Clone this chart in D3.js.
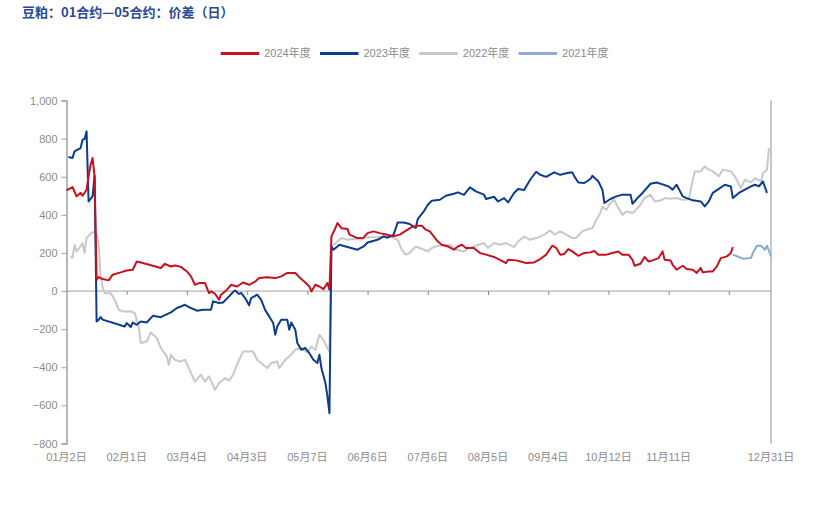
<!DOCTYPE html>
<html>
<head>
<meta charset="utf-8">
<script src="https://cdn.jsdelivr.net/npm/d3@7"></script>
<style>
  body { margin: 0; background: #ffffff; }
  svg text { font-family: "Liberation Sans", "Noto Sans CJK SC", sans-serif; }
</style>
</head>
<body>
<svg id="chart" width="829" height="521"></svg>
<script>
// ---------- data ----------
const chartTitle = "豆粕：01合约—05合约：价差（日）";
const seriesNames = ["2024年度", "2023年度", "2022年度", "2021年度"];
const xTickIndex = [0, 30, 60, 90, 120, 150, 180, 210, 240, 270, 300, 330, 351];
const xTickLabels = ["01月2日", "02月1日", "03月4日", "04月3日", "05月7日", "06月6日", "07月6日", "08月5日", "09月4日", "10月12日", "11月11日", "", "12月31日"];
const yTickValues = [-800, -600, -400, -200, 0, 200, 400, 600, 800, 1000];
const dayCount = 351;

// [day index, spread]
const s2024 = [[0,528],[3,546],[5,497],[7,515],[8,500],[10,532],[11,602],[12,663],[13,698],[14,600],[15,59],[16,73],[18,63],[21,56],[23,86],[27,98],[30,108],[33,112],[35,155],[38,147],[43,133],[47,121],[49,143],[52,129],[54,134],[57,127],[60,103],[62,77],[64,33],[66,42],[69,42],[71,-11],[72,-2],[74,-14],[76,-46],[77,-19],[80,7],[82,33],[85,24],[88,45],[91,33],[94,50],[96,68],[100,73],[104,68],[107,77],[110,95],[114,95],[116,73],[119,45],[121,24],[122,-2],[124,33],[126,24],[128,10],[130,42],[131,7],[132,287],[134,331],[135,357],[137,330],[140,326],[141,296],[145,278],[148,280],[150,304],[153,313],[156,304],[160,296],[163,287],[166,296],[170,322],[172,336],[175,343],[177,343],[179,322],[181,313],[183,287],[185,260],[187,243],[190,234],[193,217],[195,234],[197,243],[199,226],[203,226],[206,200],[209,191],[213,179],[216,164],[219,147],[220,164],[224,161],[229,147],[233,150],[236,168],[239,191],[242,238],[244,226],[246,191],[248,195],[250,220],[252,208],[255,185],[258,200],[261,203],[263,210],[265,191],[269,191],[272,200],[275,208],[277,191],[280,191],[282,164],[283,133],[286,143],[288,179],[290,155],[292,161],[295,173],[297,208],[298,164],[301,160],[302,138],[304,112],[307,133],[309,116],[312,112],[314,95],[316,121],[317,98],[320,103],[322,103],[324,129],[326,173],[329,182],[331,200],[332,231]];

const s2023 = [[1,703],[3,698],[4,733],[7,750],[8,794],[9,798],[10,838],[11,470],[13,497],[14,605],[15,-160],[16,-151],[17,-137],[18,-150],[29,-186],[30,-168],[32,-189],[33,-165],[35,-177],[37,-160],[40,-165],[43,-130],[47,-137],[52,-112],[55,-89],[57,-81],[59,-72],[62,-89],[65,-103],[68,-98],[72,-98],[73,-54],[76,-63],[78,-60],[81,-28],[83,-5],[84,3],[86,-15],[87,-10],[89,-37],[91,-75],[92,-37],[95,-19],[97,-46],[99,-100],[101,-133],[103,-168],[104,-229],[105,-186],[106,-168],[107,-151],[110,-151],[111,-203],[112,-165],[114,-203],[115,-273],[117,-308],[119,-299],[121,-326],[123,-361],[125,-378],[126,-334],[127,-404],[129,-483],[130,-553],[131,-641],[132,234],[133,217],[136,243],[140,231],[145,217],[148,234],[150,255],[155,269],[158,287],[160,280],[163,296],[165,360],[168,360],[171,352],[174,331],[175,378],[178,418],[180,453],[182,474],[186,479],[189,500],[193,511],[195,518],[198,505],[201,544],[204,523],[208,506],[209,483],[213,495],[215,470],[218,488],[220,465],[223,515],[225,536],[228,530],[231,584],[234,626],[236,610],[239,599],[243,623],[246,610],[249,618],[252,623],[253,602],[255,570],[258,567],[261,588],[262,605],[265,575],[267,532],[268,462],[271,483],[274,497],[277,506],[281,506],[282,458],[285,494],[287,515],[291,563],[294,570],[297,560],[300,549],[302,532],[304,558],[307,497],[309,488],[312,476],[316,470],[318,444],[320,470],[322,515],[325,536],[328,558],[331,549],[332,488],[335,515],[338,532],[341,549],[343,558],[345,550],[347,575],[349,515]];

const s2022 = [[2,182],[3,175],[4,243],[5,208],[7,234],[8,252],[9,200],[10,278],[12,301],[13,308],[14,308],[15,300],[16,252],[17,77],[18,24],[19,-11],[22,-11],[23,-28],[24,-46],[26,-98],[28,-107],[32,-107],[34,-116],[36,-186],[37,-273],[40,-265],[42,-217],[45,-247],[47,-299],[50,-343],[51,-387],[52,-334],[54,-361],[57,-370],[59,-360],[62,-430],[64,-475],[67,-439],[69,-475],[71,-448],[74,-518],[76,-483],[79,-457],[81,-470],[83,-439],[86,-361],[88,-317],[93,-317],[95,-361],[98,-387],[100,-404],[102,-378],[105,-370],[106,-404],[109,-361],[111,-343],[114,-308],[117,-299],[120,-322],[122,-291],[124,-310],[126,-229],[128,-256],[130,-299],[131,-317],[132,234],[135,260],[137,278],[140,269],[143,273],[147,270],[150,283],[155,283],[160,287],[163,278],[165,269],[167,217],[169,191],[171,200],[174,234],[176,226],[180,208],[182,226],[185,238],[188,240],[191,243],[194,217],[198,208],[201,226],[204,238],[208,252],[210,226],[213,252],[216,243],[219,252],[223,231],[225,260],[228,287],[231,269],[234,278],[238,296],[239,304],[241,318],[243,296],[246,313],[249,296],[252,278],[254,280],[257,313],[259,322],[262,331],[264,374],[266,410],[267,444],[269,427],[271,462],[273,479],[274,453],[277,401],[279,418],[282,410],[283,418],[286,453],[288,488],[291,506],[293,470],[296,475],[298,488],[301,485],[304,488],[307,479],[310,480],[311,532],[313,628],[316,628],[318,654],[320,637],[322,628],[325,602],[327,637],[331,628],[333,602],[336,541],[338,584],[341,570],[343,593],[346,575],[347,620],[349,637],[350,751]];

const s2021 = [[332,191],[335,179],[337,170],[341,173],[342,200],[344,238],[346,238],[348,217],[349,238],[351,182]];

const seriesData = [s2024, s2023, s2022, s2021];

// ---------- styles ----------
const seriesColors = ["#c8101e", "#0c3c8c", "#c8c8c8", "#8eaad0"];
const axisColor = "#a0a0a0";
const labelColor = "#8c8c8c";

// ---------- layout ----------
const svg = d3.select("#chart");
const plotLeft = 66.5, plotRight = 771, plotTop = 100.5, plotBottom = 443.5;

const x = d3.scaleLinear().domain([0, dayCount]).range([plotLeft, plotRight]);
const y = d3.scaleLinear().domain([-800, 1000]).range([plotBottom, plotTop]);

// title
svg.append("text")
  .attr("x", 22).attr("y", 17)
  .attr("font-size", 13).attr("font-weight", "bold")
  .attr("fill", "#2a4a96")
  .style("font-family", "'Noto Sans CJK SC', sans-serif")
  .text(chartTitle);

// legend
const legendX0 = 220.7, legendStep = 99.3, legendY = 53.5;
seriesNames.forEach((name, i) => {
  const g = svg.append("g").attr("transform", `translate(${legendX0 + i * legendStep},${legendY})`);
  g.append("line").attr("x1", 0).attr("x2", 38.5).attr("y1", 0).attr("y2", 0)
    .attr("stroke", seriesColors[i]).attr("stroke-width", 3);
  g.append("text").attr("x", 43.5).attr("y", 0).attr("dy", "0.36em")
    .attr("font-size", 11).attr("fill", labelColor).text(name);
});

// y axis
const yAxis = d3.axisLeft(y).tickValues(yTickValues).tickSize(5).tickPadding(4)
  .tickFormat(d3.format(","));
const yg = svg.append("g").attr("transform", `translate(${plotLeft},0)`).call(yAxis);
yg.select(".domain").attr("stroke", axisColor).attr("stroke-width", 1.5);
yg.selectAll(".tick line").attr("stroke", axisColor);
yg.selectAll(".tick text").attr("fill", labelColor).attr("font-size", 11)
  .style("font-family", "'Liberation Sans', sans-serif");

// right frame line
svg.append("line").attr("x1", plotRight).attr("x2", plotRight)
  .attr("y1", plotTop).attr("y2", plotBottom)
  .attr("stroke", axisColor).attr("stroke-width", 1.2);

// x axis at zero with tick marks
const xAxis = d3.axisBottom(x).tickValues(xTickIndex.slice(1, -1)).tickSize(4).tickFormat("");
const xg = svg.append("g").attr("transform", `translate(0,${y(0)})`).call(xAxis);
xg.select(".domain").attr("stroke", axisColor).attr("stroke-width", 1).attr("d", `M${plotLeft},0H${plotRight}`);
xg.selectAll(".tick line").attr("stroke", "#888");

// x tick labels at bottom
svg.append("g").selectAll("text")
  .data(xTickIndex.map((d, i) => ({ d, label: xTickLabels[i] })))
  .join("text")
  .attr("x", p => x(p.d))
  .attr("y", 457).attr("dy", "0.36em")
  .attr("text-anchor", "middle")
  .attr("font-size", 11).attr("fill", labelColor)
  .text(p => p.label);

// lines (2024 on top)
const line = d3.line().x(d => x(d[0])).y(d => y(d[1]));
const order = [3, 2, 1, 0];
order.forEach(i => {
  svg.append("path").datum(seriesData[i])
    .attr("fill", "none")
    .attr("stroke", seriesColors[i])
    .attr("stroke-width", 2)
    .attr("stroke-linejoin", "round")
    .attr("d", line);
});
</script>
</body>
</html>
